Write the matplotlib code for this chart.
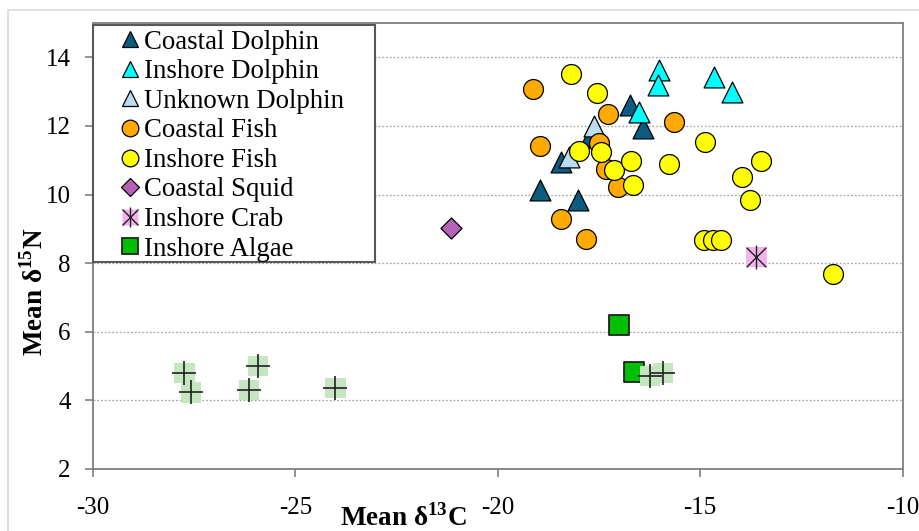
import matplotlib
matplotlib.use("Agg")
import matplotlib.pyplot as plt
from matplotlib.lines import Line2D
from matplotlib.patches import Rectangle

plt.rcParams['font.family'] = ['Liberation Serif', 'DejaVu Serif']
plt.rcParams['mathtext.fontset'] = 'custom'
plt.rcParams['mathtext.rm'] = 'Liberation Serif'
plt.rcParams['mathtext.bf'] = 'Liberation Serif:bold'

# values (d13C, d15N)
coastal_dolphin_x = [-18.95, -18.02, -16.74, -16.42, -18.43, -17.73]
coastal_dolphin_y = [10.13, 9.84, 12.60, 11.95, 10.96, 11.69]
inshore_dolphin_x = [-16.02, -16.04, -14.67, -14.21, -16.51]
inshore_dolphin_y = [13.63, 13.20, 13.44, 13.00, 12.42]
unknown_dolphin_x = [-17.62, -18.25]
unknown_dolphin_y = [12.00, 11.09]
coastal_fish_x = [-19.13, -17.28, -15.65, -18.96, -17.50, -17.32, -17.03, -18.44, -17.83]
coastal_fish_y = [13.08, 12.34, 12.10, 11.42, 11.50, 10.74, 10.23, 9.28, 8.70]
inshore_fish_x = [-18.20, -17.54, -17.99, -17.44, -17.13, -16.72, -16.67, -15.77,
                  -14.87, -13.51, -13.97, -13.78, -14.91, -14.68, -14.48, -11.72]
inshore_fish_y = [13.52, 12.95, 11.28, 11.25, 10.72, 10.99, 10.27, 10.88,
                  11.52, 10.98, 10.52, 9.84, 8.68, 8.68, 8.68, 7.68]
coastal_squid_x = [-21.16]
coastal_squid_y = [9.03]
inshore_crab_x = [-13.61]
inshore_crab_y = [8.19]
inshore_algae_x = [-17.01, -16.64]
inshore_algae_y = [6.20, 4.84]
# unlabelled series (light green squares with a cross)
other_x = [-27.74, -27.58, -26.15, -25.93, -24.01, -16.25, -15.92]
other_y = [4.81, 4.23, 4.30, 5.00, 4.35, 4.71, 4.81]

labels = ['Coastal Dolphin', 'Inshore Dolphin', 'Unknown Dolphin', 'Coastal Fish',
          'Inshore Fish', 'Coastal Squid', 'Inshore Crab', 'Inshore Algae']

c_cd = '#0B5C80'
c_id = '#00FFFF'
c_ud = '#BBDDEE'
c_cf = '#FFAA00'
c_if = '#FFFF00'
c_sq = '#B461B8'
c_cr = '#F2B2EA'
c_al = '#00BF00'
c_ot = '#C6E6C2'

fig = plt.figure(figsize=(9.2, 5.31), dpi=100)
ax = fig.add_axes([0.1011, 0.1168, 0.880, 0.8399])

fig.patches.append(Rectangle((8 / 920, -0.1), 1.2, 1 - 10 / 531 + 0.1,
                             transform=fig.transFigure, fill=False,
                             edgecolor='#D9D9D9', linewidth=1.2, zorder=0))

ax.set_xlim(-30, -10)
ax.set_ylim(2, 15)
ax.set_xticks([-30, -25, -20, -15, -10])
ax.set_yticks([2, 4, 6, 8, 10, 12, 14])
ax.set_xticklabels(['-30', '-25', '-20', '-15', '-10'])
for y in [4, 6, 8, 10, 12, 14]:
    ax.axhline(y, color='#A6A6A6', linestyle=(0, (1.5, 1.5)), linewidth=0.9, zorder=1)

for s in ax.spines.values():
    s.set_color('#7F7F7F')
    s.set_linewidth(1.3)
ax.tick_params(direction='out', length=6, width=1.2, color='#7F7F7F', labelsize=18)
ax.tick_params(axis='x', pad=14)
ax.tick_params(axis='y', pad=10)

kw = dict(edgecolors='black', linewidths=0.9, zorder=3)
ax.scatter(coastal_dolphin_x, coastal_dolphin_y, s=225, marker='^', facecolors=c_cd, **kw)
ax.scatter(inshore_dolphin_x, inshore_dolphin_y, s=225, marker='^', facecolors=c_id, **kw)
ax.scatter(unknown_dolphin_x, unknown_dolphin_y, s=225, marker='^', facecolors=c_ud, **kw)
ax.scatter(coastal_fish_x, coastal_fish_y, s=205, marker='o', facecolors=c_cf, **kw)
ax.scatter(inshore_fish_x, inshore_fish_y, s=205, marker='o', facecolors=c_if, **kw)
ax.scatter(coastal_squid_x, coastal_squid_y, s=115, marker='D', facecolors=c_sq, **kw)
ax.scatter(inshore_crab_x, inshore_crab_y, s=210, marker='s', facecolors=c_cr,
           edgecolors='none', zorder=3)
ax.scatter(inshore_crab_x, inshore_crab_y, s=200, marker='x', color='#202020',
           linewidths=1.0, zorder=4)
ax.scatter(inshore_crab_x, inshore_crab_y, s=320, marker='|', color='#202020',
           linewidths=1.0, zorder=4)
ax.scatter(inshore_algae_x, inshore_algae_y, s=210, marker='s', facecolors=c_al,
           edgecolors='#202020', linewidths=1.3, zorder=3)
ax.scatter(other_x, other_y, s=210, marker='s', facecolors=c_ot, edgecolors='none', zorder=5)
ax.scatter(other_x, other_y, s=280, marker='+', color='#202020', linewidths=1.2, zorder=6)

ax.set_ylabel(r'Mean δ$^{\mathbf{15}}$N', fontsize=19.5, fontweight='bold')
ax.yaxis.set_label_coords(-0.055, 0.398)
ax.set_xlabel(r'Mean δ$^{\mathbf{13}}$C', fontsize=19.5, fontweight='bold')
ax.xaxis.set_label_coords(0.383, -0.078)

# legend box drawn by hand so it can have the wide left margin of the original
ax.add_patch(Rectangle((0, 0.464), 0.348, 0.532, transform=ax.transAxes,
                       facecolor='white', edgecolor='#595959', linewidth=1.5,
                       zorder=9, clip_on=False))

lk = dict(linestyle='none', markeredgecolor='black', markeredgewidth=0.9)
handles = [
    Line2D([], [], marker='^', markersize=12, markerfacecolor=c_cd, **lk),
    Line2D([], [], marker='^', markersize=12, markerfacecolor=c_id, **lk),
    Line2D([], [], marker='^', markersize=12, markerfacecolor=c_ud, **lk),
    Line2D([], [], marker='o', markersize=12, markerfacecolor=c_cf, **lk),
    Line2D([], [], marker='o', markersize=12, markerfacecolor=c_if, **lk),
    Line2D([], [], marker='D', markersize=9.5, markerfacecolor=c_sq, **lk),
    (Line2D([], [], marker='s', markersize=12, markerfacecolor=c_cr,
            markeredgecolor='none', linestyle='none'),
     Line2D([], [], marker='x', markersize=11, color='#202020', linestyle='none'),
     Line2D([], [], marker='|', markersize=14, color='#202020', linestyle='none')),
    Line2D([], [], marker='s', markersize=12, markerfacecolor=c_al,
           markeredgecolor='#202020', markeredgewidth=1.3, linestyle='none'),
]
leg = ax.legend(handles, labels, loc='upper left', bbox_to_anchor=(0.031, 0.985),
                fontsize=19.3, frameon=False, borderpad=0, labelspacing=0.17,
                handlelength=0.9, handletextpad=0.05, borderaxespad=0)
leg.set_zorder(10)

fig.savefig('out.png', dpi=100)
